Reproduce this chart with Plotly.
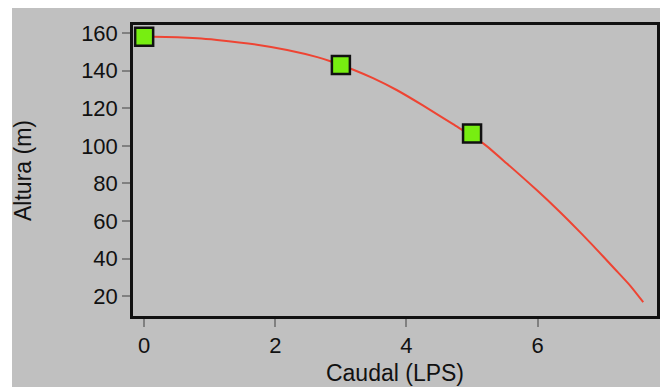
import plotly.graph_objects as go

# measured pump points
caudal_pts = [0, 3, 5]
altura_pts = [158, 143, 106.5]

# red curve
curve_x = [0, 0.14, 0.81, 1.11, 1.72, 2.18, 2.64, 2.84, 3.19, 3.49, 3.85, 4.25,
           4.71, 5.17, 5.53, 5.99, 6.34, 6.49, 6.83, 7.18, 7.41, 7.61]
curve_y = [158, 158.0, 157.2, 156.3, 153.8, 151, 147.2, 145, 140.5, 136, 129.7, 121.5,
           111.5, 101.3, 90.6, 76.3, 64.8, 59.6, 47.4, 34.3, 25.6, 16.8]

x_ticks = [0, 2, 4, 6]
y_ticks = [20, 40, 60, 80, 100, 120, 140, 160]

GRAY = "#C0C0C0"
TICK_FONT = dict(family="Liberation Sans, Arial, sans-serif", size=22, color="#111111")
TITLE_FONT = dict(family="Liberation Sans, Arial, sans-serif", size=23, color="#111111")

fig = go.Figure()
fig.add_trace(go.Scatter(x=curve_x, y=curve_y, mode="lines",
                         line=dict(color="#EE4433", width=2, shape="spline", smoothing=0.6),
                         hoverinfo="skip"))
fig.add_trace(go.Scatter(x=caudal_pts, y=altura_pts, mode="markers", cliponaxis=False,
                         marker=dict(symbol="square", size=18, color="#77EE11",
                                     line=dict(color="#111111", width=2.5))))

# gray window background (white strip on the left, page margin does the rest)
fig.add_shape(type="rect", xref="paper", yref="paper", layer="below",
              x0=-0.2309, x1=1.05, y0=-0.3, y1=1.1,
              fillcolor=GRAY, line=dict(width=0))

axis_common = dict(showgrid=False, zeroline=False, showline=True, mirror=True,
                   linecolor="#111111", linewidth=2.5, ticks="outside", ticklen=8,
                   tickcolor="#808080", tickwidth=1.5, tickfont=TICK_FONT)

fig.update_xaxes(range=[-0.17, 7.82], tickvals=x_ticks,
                 title=dict(text="Caudal (LPS)", font=TITLE_FONT, standoff=8), **axis_common)
fig.update_yaxes(range=[9.4, 164.3], tickvals=y_ticks,
                 title=dict(text="Altura (m)", font=TITLE_FONT, standoff=44), **axis_common)

# page body has an 8px margin, so the figure is 8px smaller than the window
fig.update_layout(width=660, height=379, showlegend=False,
                  margin=dict(l=125, r=11, t=17, b=71, autoexpand=False),
                  paper_bgcolor="white", plot_bgcolor=GRAY)

fig.write_html("out.html")
